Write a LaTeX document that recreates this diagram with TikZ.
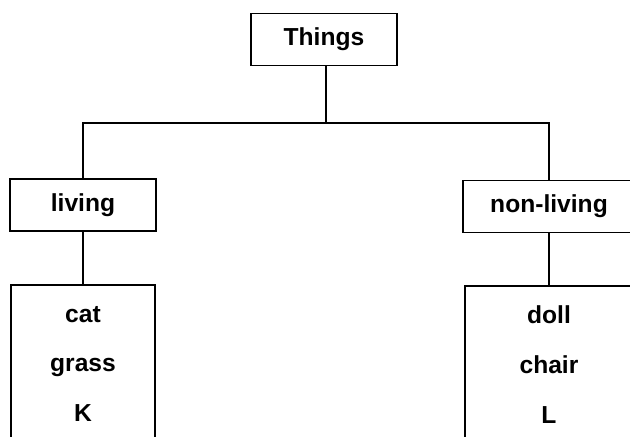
\documentclass[tikz,border=0pt]{standalone}
\usepackage{fontspec}
\setmainfont{Liberation Sans}
\begin{document}
\begin{tikzpicture}[
		box/.style={draw,line width=1.2pt,minimum width=3.65cm,minimum height=1.3cm,inner sep=0pt,font=\fontsize{17.5}{22}\selectfont\bfseries},
		listbox/.style={box,anchor=north,align=center,minimum height=3.95cm,font=\fontsize{17.5}{35.4}\selectfont\bfseries}
	]
		\clip (0,0) rectangle (15.75,10.9);
		
		\node [box] (things) at (8.1,9.91) {Things};
		\node [box] (living) at (2.075,5.78) {living};
		\node [box,minimum width=4.3cm] (nonliving) at (13.725,5.74) {non-living};
		\node [listbox,minimum width=3.6cm] (livlist) at (2.075,3.8) {cat\\grass\\K};
		\node [listbox,minimum width=4.2cm] (nonlist) at (13.725,3.775) {doll\\chair\\L};
		\coordinate (fork) at (8.15,7.825);
		
		\draw [line width=1.2pt](things.south-|fork)--(fork);
		\draw [line width=1.2pt](living.north)|-(fork)-|(nonliving.north);
		\draw [line width=1.2pt](living.south)--(livlist.north);
		\draw [line width=1.2pt](nonliving.south)--(nonlist.north);
	\end{tikzpicture}
\end{document}
